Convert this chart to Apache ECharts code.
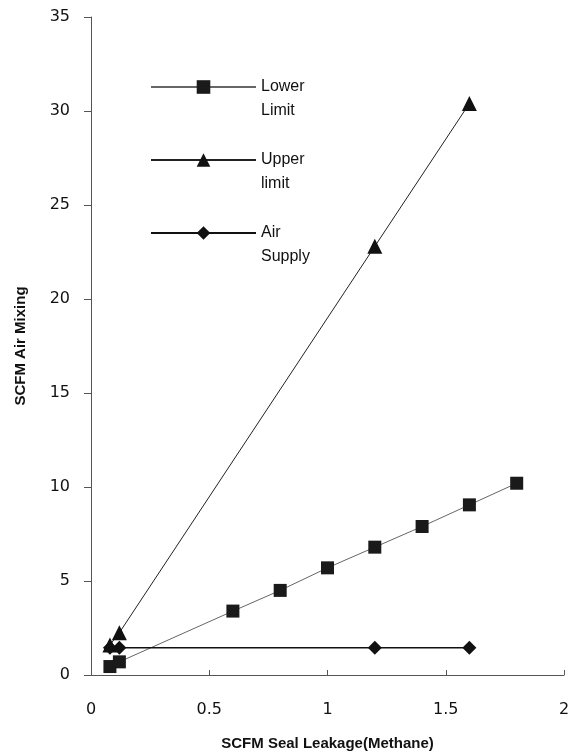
<!DOCTYPE html>
<html><head><meta charset="utf-8">
<script src="https://cdn.jsdelivr.net/npm/echarts@6/dist/echarts.min.js"></script>
<style>html,body{margin:0;padding:0;background:#fff}#c{width:573px;height:752px}</style>
</head><body><div id="c"></div>
<script>
const lowerX = [0.08, 0.12, 0.6, 0.8, 1.0, 1.2, 1.4, 1.6, 1.8];
const lowerY = [0.45, 0.7, 3.4, 4.5, 5.7, 6.8, 7.9, 9.05, 10.2];
const upperX = [0.08, 0.12, 1.2, 1.6];
const upperY = [1.6, 2.25, 22.8, 30.4];
const airX = [0.08, 0.12, 1.2, 1.6];
const airY = [1.45, 1.45, 1.45, 1.45];
const seriesNames = ['\nLower\nLimit', '\nUpper\nlimit', '\nAir\nSupply'];
const xTicks = [0, 0.5, 1, 1.5, 2];
const yTicks = [0, 5, 10, 15, 20, 25, 30, 35];

const pairs = (xs, ys) => xs.map((x, i) => [x, ys[i]]);
const tickFont = 'DejaVu Sans';
const titleFont = 'Liberation Sans';
const chart = echarts.init(document.getElementById('c'));
chart.setOption({
  animation: false,
  backgroundColor: '#fff',
  grid: { left: 91, right: 9, top: 17, bottom: 77, containLabel: false, outerBoundsMode: 'none' },
  legend: {
    orient: 'vertical', left: 150, top: 51, padding: 0,
    itemWidth: 105, itemHeight: 17, itemGap: 1,
    textStyle: { fontFamily: titleFont, fontSize: 16, color: '#111', lineHeight: 24 },
    data: seriesNames
  },
  xAxis: {
    type: 'value', min: 0, max: 2, interval: 0.5,
    name: 'SCFM Seal Leakage(Methane)', nameLocation: 'middle', nameGap: 61,
    nameTextStyle: { fontFamily: titleFont, fontWeight: 'bold', fontSize: 15, color: '#111' },
    axisLine: { lineStyle: { color: '#555', width: 1 } },
    axisTick: { show: true, inside: true, length: 5, lineStyle: { color: '#555' } },
    axisLabel: { fontFamily: tickFont, fontSize: 16, color: '#111', margin: 27,
      formatter: v => String(xTicks.find(t => Math.abs(t - v) < 1e-9) ?? v) },
    splitLine: { show: false }
  },
  yAxis: {
    type: 'value', min: 0, max: 35, interval: 5,
    name: 'SCFM Air Mixing', nameLocation: 'middle', nameGap: 63,
    nameTextStyle: { fontFamily: titleFont, fontWeight: 'bold', fontSize: 15, color: '#111' },
    axisLine: { show: true, lineStyle: { color: '#555', width: 1 } },
    axisTick: { show: true, length: 7, lineStyle: { color: '#555' } },
    axisLabel: { fontFamily: tickFont, fontSize: 16, color: '#111', margin: 21,
      formatter: v => String(yTicks.find(t => t === v) ?? v) },
    splitLine: { show: false }
  },
  series: [
    { name: seriesNames[0], type: 'line', data: pairs(lowerX, lowerY),
      symbol: 'rect', symbolSize: 13,
      lineStyle: { color: '#666', width: 1 }, itemStyle: { color: '#1a1a1a' } },
    { name: seriesNames[1], type: 'line', data: pairs(upperX, upperY),
      symbol: 'triangle', symbolSize: 15,
      lineStyle: { color: '#222', width: 1 }, itemStyle: { color: '#111' } },
    { name: seriesNames[2], type: 'line', data: pairs(airX, airY),
      symbol: 'diamond', symbolSize: [14, 14],
      lineStyle: { color: '#111', width: 1.3 }, itemStyle: { color: '#111' } }
  ]
});
</script></body></html>
